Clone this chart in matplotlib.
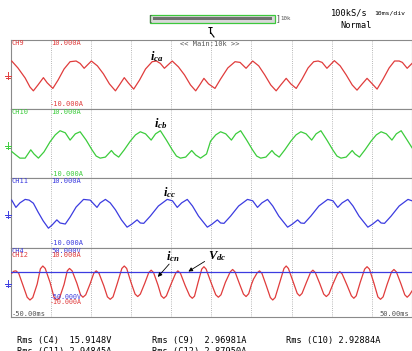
import matplotlib
matplotlib.use("Agg")
import matplotlib.pyplot as plt
from matplotlib.patches import Rectangle
import numpy as np

# ---- data (t in ms, currents in A, voltage in V) ----
ica_t = [-49.75, -48.2, -46.4, -45.2, -44.35, -43.2, -41.85, -40.9, -39.5, -38.2, -36.7, -35.2,
         -33.7, -32.7, -31.7, -29.9, -28.4, -26.9, -25.4, -23.9, -22.9, -21.7, -20.7, -19.35,
         -17.9, -16.4, -14.75, -13.7, -12.7, -11.7, -9.75, -8.2, -6.7, -5.2, -3.9, -2.9, -1.85,
         -0.7, 0.9, 2.3, 4.1, 5.9, 7.15, 8.65, 10.3, 11.8, 13.3, 14.8, 16.15, 17.3, 18.65, 19.8,
         21.15, 22.6, 24.1, 25.5, 26.6, 27.6, 28.8, 30.65, 32.1, 33.6, 35.1, 36.3, 37.6, 38.8,
         40.1, 41.3, 42.8, 44.3, 45.65, 46.8, 47.6, 48.8, 50.0]
ica = [3.8, 1.8, -1.1, -3.7, -4.8, -3.1, -1.0, -2.5, -4.1, -1.7, 1.5, 3.6,
       3.8, 3.1, 1.7, 3.8, 2.4, 0.1, -2.8, -4.8, -3.1, -1.0, -2.5, -4.3,
       -1.7, 1.5, 3.6, 3.8, 3.1, 1.7, 3.8, 2.1, -0.2, -3.1, -4.8, -3.1, -1.2,
       -2.8, -4.1, -1.4, 1.8, 3.6, 3.4, 1.7, 3.8, 2.4, -0.2, -3.1, -4.8, -3.1, -1.2, -2.8,
       -4.1, -1.4, 1.8, 3.6, 3.8, 3.4, 1.7, 3.9, 2.4, -0.2, -3.1, -4.6, -2.8, -1.2,
       -2.8, -4.3, -1.4, 1.8, 3.8, 3.8, 3.4, 1.7, 3.1]

icb_t = [-49.75, -48.7, -47.7, -46.4, -45.0, -44.2, -43.1, -41.7, -40.2, -38.9, -37.7, -36.4,
         -35.2, -33.9, -32.7, -31.2, -29.75, -28.7, -27.7, -26.4, -24.9, -24.2, -23.1, -21.7,
         -20.2, -18.9, -17.7, -16.4, -15.0, -13.9, -12.7, -11.2, -9.75, -8.7, -7.7, -6.4, -4.9,
         -3.9, -2.7, -1.2, -0.2, 1.1, 2.3, 3.6, 5.0, 6.1, 7.3, 8.8, 10.25, 11.3, 12.3, 13.6,
         15.1, 15.8, 16.9, 18.3, 19.8, 21.1, 22.3, 23.6, 25.0, 26.1, 27.3, 28.8, 30.25, 31.3,
         32.3, 33.6, 35.1, 35.8, 36.9, 38.3, 39.8, 41.1, 42.3, 43.6, 45.0, 46.1, 47.3, 48.8, 50.0]
icb = [-2.3, -3.3, -4.2, -4.2, -1.8, -3.0, -4.2, -2.4, 0.5, 2.5, 3.7, 3.1,
       1.0, 2.8, 3.4, 1.0, -1.8, -3.6, -4.2, -3.9, -2.0, -3.0, -3.9, -1.8,
       0.7, 2.5, 3.4, 2.8, 1.0, 2.8, 3.7, 1.0, -1.8, -3.6, -4.2, -3.9, -2.0,
       -3.3, -4.2, -3.0, 0.7, 2.5, 3.4, 2.8, 1.0, 2.8, 3.7, 1.0, -1.8, -3.6, -4.2, -3.9,
       -2.0, -3.0, -3.9, -1.8, 0.7, 2.5, 3.4, 2.8, 1.0, 2.8, 3.7, 1.0, -1.8, -3.6,
       -4.2, -3.9, -2.0, -3.0, -3.9, -1.8, 0.7, 2.5, 3.4, 2.8, 1.0, 2.8, 3.7, 1.0, -1.2]

icc_t = [-49.75, -48.7, -47.7, -46.4, -45.4, -44.35, -43.2, -41.9, -40.6, -39.7, -38.5, -37.7,
         -36.4, -35.2, -33.7, -31.85, -30.2, -28.5, -27.7, -26.4, -25.2, -23.9, -22.4, -21.0,
         -19.9, -18.5, -17.7, -16.85, -15.2, -13.2, -11.0, -9.7, -8.5, -7.4, -6.0, -4.7, -3.2,
         -1.0, 0.1, 1.5, 2.3, 3.15, 4.8, 6.8, 9.0, 10.3, 11.5, 12.6, 14.0, 15.3, 16.8,
         19.0, 20.1, 21.5, 22.3, 23.15, 24.8, 26.8, 29.0, 30.3, 31.5, 32.6, 34.0, 35.3, 36.8,
         39.0, 40.1, 41.5, 42.3, 43.15, 44.8, 46.8, 49.0, 50.0]
icc = [3.7, 1.6, 2.9, 3.9, 3.7, 2.8, 0.3, -2.3, -4.4, -3.5, -2.0, -2.9,
       -3.2, -1.2, 1.7, 3.9, 3.7, 1.6, 2.9, 3.9, 2.9, 0.9, -2.0, -4.1,
       -3.3, -2.0, -2.9, -3.0, -0.9, 2.0, 3.9, 3.5, 1.6, 2.9, 3.9, 2.0, -0.9,
       -4.1, -3.3, -2.0, -2.9, -3.0, -0.9, 2.0, 3.9, 3.5, 1.6, 2.9, 3.9, 2.0, -0.9,
       -4.1, -3.3, -2.0, -2.9, -3.0, -0.9, 2.0, 3.9, 3.5, 1.6, 2.9, 3.9, 2.0, -0.9,
       -4.1, -3.3, -2.0, -2.9, -3.0, -0.9, 2.0, 3.9, 3.5]

icn_t = [-49.75, -49.2, -48.7, -48.0, -46.9, -45.9, -45.2, -44.5, -43.4, -42.6, -42.0, -41.4,
         -40.2, -39.2, -38.5, -37.8, -36.7, -35.9, -35.35, -34.7, -33.5, -32.6, -32.0, -31.3,
         -30.2, -29.3, -28.7, -28.0, -26.8, -25.9, -25.2, -24.5, -23.4, -22.3, -21.7, -21.1,
         -20.0, -19.0, -18.35, -17.7, -16.6, -15.6, -15.0, -14.4, -13.3, -12.5, -11.85, -11.2,
         -10.0, -8.9, -8.35, -7.7, -6.5, -5.4, -4.75, -4.2, -3.3, -2.4, -1.85, -1.3,
         -0.1, 1.1, 1.75, 2.4, 3.5, 4.7, 5.3, 5.9, 7.0, 8.0, 8.65, 9.3,
         10.0, 10.5, 11.4, 12.0, 12.6, 13.7, 14.7, 15.3, 15.9, 17.0, 18.1, 18.65,
         19.2, 20.3, 21.4, 22.0, 22.6, 23.7, 24.7, 25.3, 25.9, 27.0, 28.0, 28.65,
         29.3, 30.3, 31.4, 32.0, 32.6, 33.8, 34.9, 35.5, 36.1, 37.1, 38.2, 38.8,
         39.4, 40.5, 41.5, 42.15, 42.8, 43.8, 44.9, 45.5, 46.1, 47.2, 48.2, 48.8, 49.4, 50.0]
icn = [2.6, 3.2, 3.3, 2.6, -1.0, -4.3, -5.1, -4.4, -0.5, 3.9, 4.7, 4.0,
       0.0, -4.3, -5.1, -4.4, -0.6, 3.3, 4.0, 3.3, -0.3, -3.6, -4.3, -3.6,
       -0.4, 2.6, 3.3, 2.6, -1.0, -4.2, -4.9, -4.2, -0.2, 4.0, 4.7, 4.0,
       -0.1, -3.4, -4.1, -3.4, -0.3, 2.8, 3.5, 2.8, -0.8, -3.9, -4.6, -3.9,
       -0.4, 2.6, 3.3, 2.6, -1.0, -3.9, -4.6, -4.0, 0.0, 3.8, 4.5, 3.8,
       0.0, -3.6, -4.3, -3.6, 0.0, 3.0, 3.7, 3.0, -0.4, -3.4, -4.1, -3.3,
       -0.6, 0.9, 2.7, 3.3, 2.6, -1.0, -4.4, -5.1, -4.4, -0.2, 4.0, 4.7,
       4.0, 0.4, -3.2, -3.9, -3.2, 0.0, 2.8, 3.5, 2.8, -0.3, -3.4, -4.1,
       -3.4, -0.5, 2.4, 3.1, 2.4, -0.8, -3.9, -4.6, -3.9, 0.0, 3.8, 4.5,
       3.8, -0.2, -4.2, -4.9, -4.2, -0.6, 3.0, 3.7, 3.0, -0.3, -3.6, -4.3, -3.6, -2.5]

vdc_t = [-50.0, 50.0]
vdc = [14.5, 14.5]

rms_labels = ["Rms (C4)  15.9148V", "Rms (C9)  2.96981A", "Rms (C10) 2.92884A",
              "Rms (C11) 2.94845A", "Rms (C12) 2.87950A"]

W, H = 412, 351
RED, GREEN, BLUE = "#e03c3c", "#3ccc3c", "#3c3ce0"
GRID = "#a0a0a0"
MONO = "DejaVu Sans Mono"

plt.rcParams["mathtext.fontset"] = "custom"
plt.rcParams["mathtext.it"] = "Liberation Serif:italic:bold"
plt.rcParams["mathtext.rm"] = "Liberation Serif:bold"

fig = plt.figure(figsize=(W / 100, H / 100), dpi=100)
fig.patch.set_facecolor("white")


def px(x, y):
    return x / W, 1 - y / H


def ftext(x, y, s, **kw):
    kw.setdefault("fontfamily", MONO)
    kw.setdefault("va", "center")
    fig.text(*px(x, y), s, **kw)


LEFT, RIGHT = 10.7, 412.0
TOP, BOT = 39.5, 317.0
PH = (BOT - TOP) / 4


def panel(i):
    y0 = TOP + i * PH
    ax = fig.add_axes([LEFT / W, 1 - (y0 + PH) / H, (RIGHT - LEFT) / W, PH / H])
    ax.set_xlim(-50, 50)
    ax.set_ylim(-10, 10)
    ax.set_xticks([])
    ax.set_yticks([])
    for s in ax.spines.values():
        s.set_color("#8a8a8a")
        s.set_linewidth(0.8)
    gx = np.arange(-48, 49, 2)
    gy = np.arange(-8, 9, 2)
    X, Y = np.meshgrid(gx, gy)
    ax.scatter(X.ravel(), Y.ravel(), s=0.45, c=GRID, marker="s", lw=0, zorder=1)
    for xv in range(-40, 41, 10):
        ax.axvline(xv, color=GRID, lw=0.6, ls=(0, (1, 1.6)), zorder=1)
    return ax


ax1 = panel(0)
ax1.plot(ica_t, ica, color=RED, lw=0.9, zorder=3)
ax2 = panel(1)
ax2.plot(icb_t, icb, color=GREEN, lw=0.9, zorder=3)
ax3 = panel(2)
ax3.plot(icc_t, icc, color=BLUE, lw=0.9, zorder=3)
ax4 = panel(3)
ax4.plot(icn_t, icn, color=RED, lw=0.9, zorder=3)
ax4v = ax4.twinx()
ax4v.set_ylim(-50, 50)
ax4v.axis("off")
ax4v.plot(vdc_t, vdc, color=BLUE, lw=0.9, zorder=2)

# channel labels
fs = 5.0
for i, (ch, col) in enumerate([("CH9", RED), ("CH10", GREEN), ("CH11", BLUE)]):
    y0 = TOP + i * PH
    ftext(12, y0 + 3.2, ch, color=col, fontsize=fs)
    ftext(51, y0 + 3.2, "10.000A", color=col, fontsize=fs)
    ftext(50, y0 + PH - 4.5, "-10.000A", color=col, fontsize=fs)
y3 = TOP + 3 * PH
ftext(12, y3 + 3.0, "CH4", color=BLUE, fontsize=fs)
ftext(12, y3 + 7.5, "CH12", color=RED, fontsize=fs)
ftext(51, y3 + 3.0, "50.000V", color=BLUE, fontsize=fs)
ftext(51, y3 + 7.5, "10.000A", color=RED, fontsize=fs)
ftext(50, 297.0, "-50.000V", color=BLUE, fontsize=4.8)
ftext(50, 301.8, "-10.000A", color=RED, fontsize=4.8)
ftext(12, 313.5, "-50.00ms", color="#555555", fontsize=fs)
ftext(409, 313.5, "50.00ms", color="#555555", fontsize=fs, ha="right")
ftext(210, 43.5, "<< Main:10k >>", color="#555555", fontsize=fs, ha="center")

# ground markers
for i, col in enumerate([RED, GREEN, BLUE, BLUE]):
    yc = TOP + i * PH + PH / 2 + 2
    fig.add_artist(plt.Line2D([8 / W, 8 / W], [1 - (yc - 4) / H, 1 - (yc + 3) / H], color=col, lw=0.7))
    fig.add_artist(plt.Line2D([5 / W, 11 / W], [1 - yc / H, 1 - yc / H], color=col, lw=0.7))
    fig.add_artist(plt.Line2D([6 / W, 10 / W], [1 - (yc + 2) / H, 1 - (yc + 2) / H], color=col, lw=0.7))

# zoom bar at top
fig.add_artist(Rectangle(px(150, 22.5), 125 / W, 7.5 / H, facecolor="#d8d8d8",
                         edgecolor="#3cc83c", lw=0.9))
fig.add_artist(Rectangle(px(153, 20), 119 / W, 2.5 / H, facecolor="#707070", lw=0))
ftext(147.5, 18.5, "[", color="#555555", fontsize=6)
ftext(275.5, 18.5, "]", color="#555555", fontsize=6)
ftext(280, 18.5, "10k", color="#555555", fontsize=4.2)

ftext(331, 13, "100kS/s", color="black", fontsize=6.2)
ftext(374, 13, "10ms/div", color="black", fontsize=4.6)
ftext(340, 25, "Normal", color="black", fontsize=6.2)

# trigger mark
ftext(210, 31, "T", color="black", fontsize=6, ha="center", fontweight="bold")
fig.add_artist(plt.Line2D([211 / W, 214 / W], [1 - 33 / H, 1 - 37 / H], color="black", lw=0.8))

# annotations
fig.text(*px(150, 57), r"$i_{ca}$", fontsize=9, color="black", va="center")
fig.text(*px(154, 124), r"$i_{cb}$", fontsize=9, color="black", va="center")
fig.text(*px(163, 193), r"$i_{cc}$", fontsize=9, color="black", va="center")
fig.text(*px(166, 257), r"$i_{cn}$", fontsize=9, color="black", va="center")
fig.text(*px(208, 256), r"$V_{dc}$", fontsize=9, color="black", va="center")
fig.add_artist(plt.Annotation("", xy=px(156, 279), xytext=px(171, 262), xycoords="figure fraction",
                              arrowprops=dict(arrowstyle="-|>", color="black", lw=0.6,
                                              mutation_scale=6)))
fig.add_artist(plt.Annotation("", xy=px(186, 273), xytext=px(207, 260), xycoords="figure fraction",
                              arrowprops=dict(arrowstyle="-|>", color="black", lw=0.6,
                                              mutation_scale=6)))

# rms readouts
ftext(17, 340, rms_labels[0], color="black", fontsize=6.2)
ftext(152, 340, rms_labels[1], color="black", fontsize=6.2)
ftext(286, 340, rms_labels[2], color="black", fontsize=6.2)
ftext(17, 351.5, rms_labels[3], color="black", fontsize=6.2)
ftext(152, 351.5, rms_labels[4], color="black", fontsize=6.2)

fig.savefig("out.png", dpi=100, facecolor="white")
